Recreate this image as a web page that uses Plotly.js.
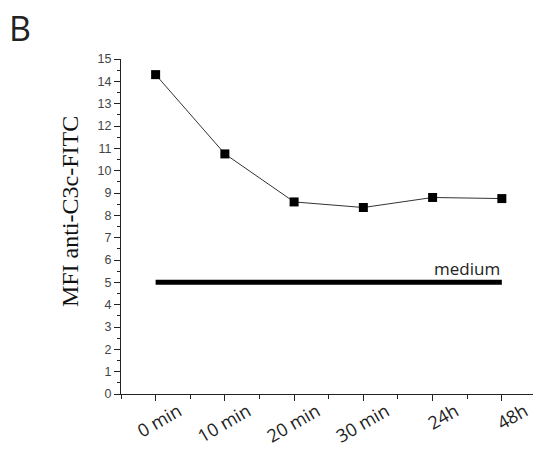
<!DOCTYPE html>
<html>
<head>
<meta charset="utf-8">
<script src="https://cdn.plot.ly/plotly-3.0.1.min.js"></script>
<style>html,body{margin:0;padding:0;background:#fff;}#chart{width:533px;height:450px;}</style>
</head>
<body>
<div id="chart"></div>
<script>
// Data
var categories = ["0 min", "10 min", "20 min", "30 min", "24h", "48h"];
var mfiValues = [14.3, 10.75, 8.6, 8.35, 8.8, 8.75];
var mediumValue = 5;
var mediumLabel = "medium";
var yTitle = "MFI anti-C3c-FITC";
var panelLabel = "B";

var xIdx = categories.map(function(_, i){ return i; });

var traces = [
  {
    x: [xIdx[0], xIdx[xIdx.length - 1]],
    y: [mediumValue, mediumValue],
    mode: "lines",
    line: {color: "#000", width: 5},
    hoverinfo: "skip",
    showlegend: false
  },
  {
    x: xIdx,
    y: mfiValues,
    mode: "lines+markers",
    line: {color: "#333", width: 1},
    marker: {symbol: "square", size: 9, color: "#000"},
    showlegend: false
  }
];

var layout = {
  width: 533,
  height: 450,
  margin: {l: 121, r: 0, t: 59, b: 56},
  paper_bgcolor: "#fff",
  plot_bgcolor: "#fff",
  showlegend: false,
  xaxis: {
    range: [-0.5, 5.45],
    tickmode: "array",
    tickvals: xIdx,
    ticktext: categories,
    tickangle: -30,
    ticklabelshift: 23,
    ticklabelstandoff: -7,
    ticklabeloverflow: "allow",
    ticks: "outside",
    ticklen: 6,
    tickwidth: 1,
    tickcolor: "#222",
    showline: true,
    linecolor: "#222",
    linewidth: 1,
    showgrid: false,
    zeroline: false,
    tickfont: {family: "Open Sans, sans-serif", size: 18, color: "#222"},
    minor: {tickmode: "linear", tick0: 0.5, dtick: 1, ticks: "outside", ticklen: 4, tickcolor: "#222", showgrid: false},
    automargin: false,
    fixedrange: true
  },
  yaxis: {
    range: [0, 15],
    tickmode: "linear",
    tick0: 0,
    dtick: 1,
    ticks: "outside",
    ticklen: 6,
    tickwidth: 1,
    tickcolor: "#222",
    showline: true,
    linecolor: "#222",
    linewidth: 1,
    showgrid: false,
    zeroline: false,
    tickfont: {family: "Liberation Sans", size: 12.5, color: "#444"},
    minor: {tickmode: "linear", tick0: 0.5, dtick: 1, ticks: "outside", ticklen: 3, tickcolor: "#222", showgrid: false},
    automargin: false,
    fixedrange: true
  },
  annotations: [
    {
      x: xIdx[xIdx.length - 1], y: mediumValue, xref: "x", yref: "y",
      text: mediumLabel, showarrow: false, xanchor: "right", yanchor: "bottom", yshift: 0,
      font: {family: "Open Sans", size: 17, color: "#222"}
    },
    {
      x: 0, y: 0.543, xref: "paper", yref: "paper", xanchor: "center", yanchor: "middle",
      text: yTitle, textangle: -90, showarrow: false, xshift: -51,
      font: {family: "Liberation Serif", size: 24, color: "#111"}
    },
    {
      x: 0, y: 1, xref: "paper", yref: "paper", xanchor: "left", yanchor: "top",
      text: panelLabel, showarrow: false, xshift: -114, yshift: 56,
      font: {family: "Open Sans", size: 34, color: "#222"}
    }
  ]
};

Plotly.newPlot("chart", traces, layout, {displayModeBar: false, staticPlot: true});
</script>
</body>
</html>
